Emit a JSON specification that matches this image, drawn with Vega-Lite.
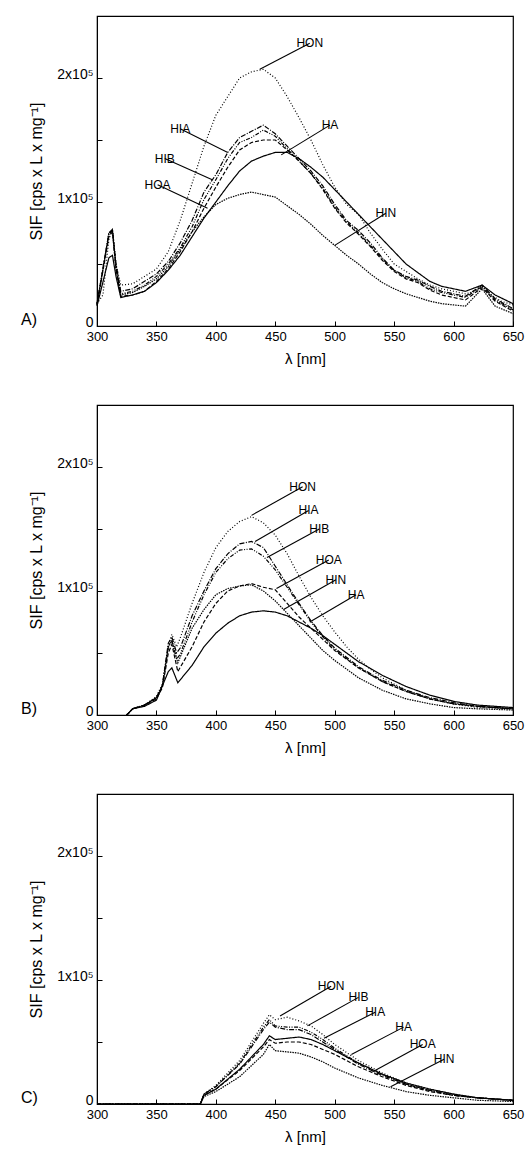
{
  "$schema": "https://vega.github.io/schema/vega-lite/v6.json",
  "background": "white",
  "padding": {"left": 20, "top": 14, "right": 14, "bottom": 5},
  "spacing": 36,
  "config": {
    "font": "Liberation Sans",
    "view": {"stroke": "black", "strokeWidth": 1.2},
    "axis": {"grid": false, "domainColor": "black", "tickColor": "black", "labelColor": "black", "titleColor": "black", "labelFontSize": 13, "titleFontSize": 15, "titleFontWeight": "normal", "labelFlush": false, "tickSize": -5, "labelPadding": 9},
    "axisY": {"labelBaseline": "alphabetic", "labelFontSize": 14, "titleFontSize": 16}
  },
  "datasets": {
    "curves": [
      {"p":"A","s":"HON","x":300,"y":18},{"p":"A","s":"HON","x":305,"y":25},{"p":"A","s":"HON","x":310,"y":70},{"p":"A","s":"HON","x":313,"y":78},{"p":"A","s":"HON","x":316,"y":50},{"p":"A","s":"HON","x":320,"y":33},{"p":"A","s":"HON","x":330,"y":34},{"p":"A","s":"HON","x":340,"y":40},{"p":"A","s":"HON","x":350,"y":46},{"p":"A","s":"HON","x":360,"y":60},{"p":"A","s":"HON","x":370,"y":85},{"p":"A","s":"HON","x":380,"y":115},{"p":"A","s":"HON","x":390,"y":145},{"p":"A","s":"HON","x":400,"y":170},{"p":"A","s":"HON","x":410,"y":185},{"p":"A","s":"HON","x":420,"y":200},{"p":"A","s":"HON","x":430,"y":205},{"p":"A","s":"HON","x":440,"y":207},{"p":"A","s":"HON","x":450,"y":200},{"p":"A","s":"HON","x":460,"y":185},{"p":"A","s":"HON","x":470,"y":168},{"p":"A","s":"HON","x":480,"y":150},{"p":"A","s":"HON","x":490,"y":130},{"p":"A","s":"HON","x":500,"y":112},{"p":"A","s":"HON","x":510,"y":98},{"p":"A","s":"HON","x":520,"y":90},{"p":"A","s":"HON","x":530,"y":75},{"p":"A","s":"HON","x":540,"y":62},{"p":"A","s":"HON","x":550,"y":50},{"p":"A","s":"HON","x":560,"y":44},{"p":"A","s":"HON","x":570,"y":38},{"p":"A","s":"HON","x":580,"y":33},{"p":"A","s":"HON","x":590,"y":30},{"p":"A","s":"HON","x":600,"y":28},{"p":"A","s":"HON","x":610,"y":26},{"p":"A","s":"HON","x":618,"y":28},{"p":"A","s":"HON","x":624,"y":33},{"p":"A","s":"HON","x":630,"y":26},{"p":"A","s":"HON","x":640,"y":20},{"p":"A","s":"HON","x":650,"y":17},
      {"p":"A","s":"HIA","x":300,"y":18},{"p":"A","s":"HIA","x":310,"y":75},{"p":"A","s":"HIA","x":313,"y":78},{"p":"A","s":"HIA","x":316,"y":50},{"p":"A","s":"HIA","x":320,"y":28},{"p":"A","s":"HIA","x":330,"y":30},{"p":"A","s":"HIA","x":340,"y":36},{"p":"A","s":"HIA","x":350,"y":42},{"p":"A","s":"HIA","x":360,"y":52},{"p":"A","s":"HIA","x":370,"y":67},{"p":"A","s":"HIA","x":380,"y":85},{"p":"A","s":"HIA","x":390,"y":108},{"p":"A","s":"HIA","x":400,"y":122},{"p":"A","s":"HIA","x":410,"y":140},{"p":"A","s":"HIA","x":420,"y":152},{"p":"A","s":"HIA","x":430,"y":157},{"p":"A","s":"HIA","x":440,"y":162},{"p":"A","s":"HIA","x":450,"y":155},{"p":"A","s":"HIA","x":460,"y":145},{"p":"A","s":"HIA","x":470,"y":135},{"p":"A","s":"HIA","x":480,"y":125},{"p":"A","s":"HIA","x":490,"y":113},{"p":"A","s":"HIA","x":500,"y":98},{"p":"A","s":"HIA","x":510,"y":85},{"p":"A","s":"HIA","x":520,"y":77},{"p":"A","s":"HIA","x":530,"y":67},{"p":"A","s":"HIA","x":540,"y":55},{"p":"A","s":"HIA","x":550,"y":45},{"p":"A","s":"HIA","x":560,"y":40},{"p":"A","s":"HIA","x":570,"y":37},{"p":"A","s":"HIA","x":580,"y":32},{"p":"A","s":"HIA","x":590,"y":28},{"p":"A","s":"HIA","x":600,"y":26},{"p":"A","s":"HIA","x":610,"y":24},{"p":"A","s":"HIA","x":624,"y":33},{"p":"A","s":"HIA","x":635,"y":22},{"p":"A","s":"HIA","x":650,"y":14},
      {"p":"A","s":"HIB","x":300,"y":17},{"p":"A","s":"HIB","x":310,"y":74},{"p":"A","s":"HIB","x":313,"y":77},{"p":"A","s":"HIB","x":316,"y":48},{"p":"A","s":"HIB","x":320,"y":26},{"p":"A","s":"HIB","x":330,"y":28},{"p":"A","s":"HIB","x":340,"y":33},{"p":"A","s":"HIB","x":350,"y":40},{"p":"A","s":"HIB","x":360,"y":50},{"p":"A","s":"HIB","x":370,"y":63},{"p":"A","s":"HIB","x":380,"y":80},{"p":"A","s":"HIB","x":390,"y":102},{"p":"A","s":"HIB","x":400,"y":118},{"p":"A","s":"HIB","x":410,"y":135},{"p":"A","s":"HIB","x":420,"y":148},{"p":"A","s":"HIB","x":430,"y":152},{"p":"A","s":"HIB","x":440,"y":158},{"p":"A","s":"HIB","x":450,"y":153},{"p":"A","s":"HIB","x":460,"y":143},{"p":"A","s":"HIB","x":470,"y":133},{"p":"A","s":"HIB","x":480,"y":123},{"p":"A","s":"HIB","x":490,"y":111},{"p":"A","s":"HIB","x":500,"y":96},{"p":"A","s":"HIB","x":510,"y":84},{"p":"A","s":"HIB","x":520,"y":75},{"p":"A","s":"HIB","x":530,"y":65},{"p":"A","s":"HIB","x":540,"y":54},{"p":"A","s":"HIB","x":550,"y":45},{"p":"A","s":"HIB","x":560,"y":39},{"p":"A","s":"HIB","x":570,"y":36},{"p":"A","s":"HIB","x":580,"y":30},{"p":"A","s":"HIB","x":590,"y":27},{"p":"A","s":"HIB","x":600,"y":25},{"p":"A","s":"HIB","x":610,"y":23},{"p":"A","s":"HIB","x":624,"y":32},{"p":"A","s":"HIB","x":635,"y":21},{"p":"A","s":"HIB","x":650,"y":13},
      {"p":"A","s":"HOA","x":300,"y":17},{"p":"A","s":"HOA","x":310,"y":72},{"p":"A","s":"HOA","x":313,"y":76},{"p":"A","s":"HOA","x":316,"y":46},{"p":"A","s":"HOA","x":320,"y":24},{"p":"A","s":"HOA","x":330,"y":25},{"p":"A","s":"HOA","x":340,"y":28},{"p":"A","s":"HOA","x":350,"y":36},{"p":"A","s":"HOA","x":360,"y":46},{"p":"A","s":"HOA","x":370,"y":60},{"p":"A","s":"HOA","x":380,"y":76},{"p":"A","s":"HOA","x":390,"y":95},{"p":"A","s":"HOA","x":400,"y":112},{"p":"A","s":"HOA","x":410,"y":128},{"p":"A","s":"HOA","x":420,"y":142},{"p":"A","s":"HOA","x":430,"y":148},{"p":"A","s":"HOA","x":440,"y":150},{"p":"A","s":"HOA","x":450,"y":150},{"p":"A","s":"HOA","x":460,"y":142},{"p":"A","s":"HOA","x":470,"y":133},{"p":"A","s":"HOA","x":480,"y":123},{"p":"A","s":"HOA","x":490,"y":110},{"p":"A","s":"HOA","x":500,"y":95},{"p":"A","s":"HOA","x":510,"y":83},{"p":"A","s":"HOA","x":520,"y":74},{"p":"A","s":"HOA","x":530,"y":64},{"p":"A","s":"HOA","x":540,"y":53},{"p":"A","s":"HOA","x":550,"y":44},{"p":"A","s":"HOA","x":560,"y":38},{"p":"A","s":"HOA","x":570,"y":35},{"p":"A","s":"HOA","x":580,"y":29},{"p":"A","s":"HOA","x":590,"y":25},{"p":"A","s":"HOA","x":600,"y":23},{"p":"A","s":"HOA","x":610,"y":21},{"p":"A","s":"HOA","x":624,"y":31},{"p":"A","s":"HOA","x":635,"y":20},{"p":"A","s":"HOA","x":650,"y":12},
      {"p":"A","s":"HA","x":300,"y":16},{"p":"A","s":"HA","x":310,"y":55},{"p":"A","s":"HA","x":313,"y":57},{"p":"A","s":"HA","x":316,"y":40},{"p":"A","s":"HA","x":320,"y":23},{"p":"A","s":"HA","x":330,"y":25},{"p":"A","s":"HA","x":340,"y":28},{"p":"A","s":"HA","x":350,"y":35},{"p":"A","s":"HA","x":360,"y":45},{"p":"A","s":"HA","x":370,"y":57},{"p":"A","s":"HA","x":380,"y":72},{"p":"A","s":"HA","x":390,"y":87},{"p":"A","s":"HA","x":400,"y":100},{"p":"A","s":"HA","x":410,"y":113},{"p":"A","s":"HA","x":420,"y":125},{"p":"A","s":"HA","x":430,"y":133},{"p":"A","s":"HA","x":440,"y":137},{"p":"A","s":"HA","x":450,"y":140},{"p":"A","s":"HA","x":460,"y":140},{"p":"A","s":"HA","x":470,"y":135},{"p":"A","s":"HA","x":480,"y":128},{"p":"A","s":"HA","x":490,"y":120},{"p":"A","s":"HA","x":500,"y":110},{"p":"A","s":"HA","x":510,"y":100},{"p":"A","s":"HA","x":520,"y":90},{"p":"A","s":"HA","x":530,"y":80},{"p":"A","s":"HA","x":540,"y":70},{"p":"A","s":"HA","x":550,"y":60},{"p":"A","s":"HA","x":560,"y":50},{"p":"A","s":"HA","x":570,"y":43},{"p":"A","s":"HA","x":580,"y":36},{"p":"A","s":"HA","x":590,"y":32},{"p":"A","s":"HA","x":600,"y":30},{"p":"A","s":"HA","x":610,"y":28},{"p":"A","s":"HA","x":624,"y":33},{"p":"A","s":"HA","x":635,"y":25},{"p":"A","s":"HA","x":650,"y":18},
      {"p":"A","s":"HIN","x":300,"y":18},{"p":"A","s":"HIN","x":310,"y":75},{"p":"A","s":"HIN","x":313,"y":77},{"p":"A","s":"HIN","x":316,"y":45},{"p":"A","s":"HIN","x":320,"y":25},{"p":"A","s":"HIN","x":330,"y":27},{"p":"A","s":"HIN","x":340,"y":32},{"p":"A","s":"HIN","x":350,"y":38},{"p":"A","s":"HIN","x":360,"y":48},{"p":"A","s":"HIN","x":370,"y":62},{"p":"A","s":"HIN","x":380,"y":76},{"p":"A","s":"HIN","x":390,"y":88},{"p":"A","s":"HIN","x":400,"y":98},{"p":"A","s":"HIN","x":410,"y":103},{"p":"A","s":"HIN","x":420,"y":106},{"p":"A","s":"HIN","x":430,"y":108},{"p":"A","s":"HIN","x":440,"y":106},{"p":"A","s":"HIN","x":450,"y":104},{"p":"A","s":"HIN","x":460,"y":97},{"p":"A","s":"HIN","x":470,"y":90},{"p":"A","s":"HIN","x":480,"y":82},{"p":"A","s":"HIN","x":490,"y":73},{"p":"A","s":"HIN","x":500,"y":65},{"p":"A","s":"HIN","x":510,"y":57},{"p":"A","s":"HIN","x":520,"y":50},{"p":"A","s":"HIN","x":530,"y":42},{"p":"A","s":"HIN","x":540,"y":35},{"p":"A","s":"HIN","x":550,"y":30},{"p":"A","s":"HIN","x":560,"y":26},{"p":"A","s":"HIN","x":570,"y":23},{"p":"A","s":"HIN","x":580,"y":20},{"p":"A","s":"HIN","x":590,"y":18},{"p":"A","s":"HIN","x":600,"y":17},{"p":"A","s":"HIN","x":610,"y":16},{"p":"A","s":"HIN","x":624,"y":30},{"p":"A","s":"HIN","x":635,"y":16},{"p":"A","s":"HIN","x":650,"y":10},

      {"p":"B","s":"HON","x":325,"y":0},{"p":"B","s":"HON","x":330,"y":5},{"p":"B","s":"HON","x":340,"y":8},{"p":"B","s":"HON","x":350,"y":15},{"p":"B","s":"HON","x":355,"y":25},{"p":"B","s":"HON","x":360,"y":55},{"p":"B","s":"HON","x":363,"y":65},{"p":"B","s":"HON","x":367,"y":55},{"p":"B","s":"HON","x":370,"y":62},{"p":"B","s":"HON","x":380,"y":90},{"p":"B","s":"HON","x":390,"y":115},{"p":"B","s":"HON","x":400,"y":135},{"p":"B","s":"HON","x":410,"y":148},{"p":"B","s":"HON","x":420,"y":156},{"p":"B","s":"HON","x":430,"y":160},{"p":"B","s":"HON","x":440,"y":155},{"p":"B","s":"HON","x":450,"y":145},{"p":"B","s":"HON","x":460,"y":130},{"p":"B","s":"HON","x":470,"y":112},{"p":"B","s":"HON","x":480,"y":95},{"p":"B","s":"HON","x":490,"y":80},{"p":"B","s":"HON","x":500,"y":67},{"p":"B","s":"HON","x":510,"y":55},{"p":"B","s":"HON","x":520,"y":45},{"p":"B","s":"HON","x":530,"y":37},{"p":"B","s":"HON","x":540,"y":30},{"p":"B","s":"HON","x":550,"y":25},{"p":"B","s":"HON","x":560,"y":20},{"p":"B","s":"HON","x":580,"y":13},{"p":"B","s":"HON","x":600,"y":9},{"p":"B","s":"HON","x":620,"y":6},{"p":"B","s":"HON","x":650,"y":5},
      {"p":"B","s":"HIA","x":325,"y":0},{"p":"B","s":"HIA","x":330,"y":5},{"p":"B","s":"HIA","x":340,"y":8},{"p":"B","s":"HIA","x":350,"y":14},{"p":"B","s":"HIA","x":355,"y":24},{"p":"B","s":"HIA","x":360,"y":58},{"p":"B","s":"HIA","x":363,"y":63},{"p":"B","s":"HIA","x":367,"y":50},{"p":"B","s":"HIA","x":370,"y":54},{"p":"B","s":"HIA","x":380,"y":80},{"p":"B","s":"HIA","x":390,"y":100},{"p":"B","s":"HIA","x":400,"y":118},{"p":"B","s":"HIA","x":410,"y":130},{"p":"B","s":"HIA","x":420,"y":138},{"p":"B","s":"HIA","x":430,"y":140},{"p":"B","s":"HIA","x":440,"y":135},{"p":"B","s":"HIA","x":450,"y":120},{"p":"B","s":"HIA","x":460,"y":105},{"p":"B","s":"HIA","x":470,"y":90},{"p":"B","s":"HIA","x":480,"y":76},{"p":"B","s":"HIA","x":490,"y":64},{"p":"B","s":"HIA","x":500,"y":54},{"p":"B","s":"HIA","x":520,"y":39},{"p":"B","s":"HIA","x":540,"y":28},{"p":"B","s":"HIA","x":560,"y":20},{"p":"B","s":"HIA","x":580,"y":14},{"p":"B","s":"HIA","x":600,"y":10},{"p":"B","s":"HIA","x":620,"y":7},{"p":"B","s":"HIA","x":650,"y":5},
      {"p":"B","s":"HIB","x":325,"y":0},{"p":"B","s":"HIB","x":330,"y":5},{"p":"B","s":"HIB","x":340,"y":8},{"p":"B","s":"HIB","x":350,"y":14},{"p":"B","s":"HIB","x":355,"y":23},{"p":"B","s":"HIB","x":360,"y":55},{"p":"B","s":"HIB","x":363,"y":60},{"p":"B","s":"HIB","x":367,"y":45},{"p":"B","s":"HIB","x":370,"y":49},{"p":"B","s":"HIB","x":380,"y":75},{"p":"B","s":"HIB","x":390,"y":97},{"p":"B","s":"HIB","x":400,"y":115},{"p":"B","s":"HIB","x":410,"y":126},{"p":"B","s":"HIB","x":420,"y":133},{"p":"B","s":"HIB","x":430,"y":134},{"p":"B","s":"HIB","x":440,"y":128},{"p":"B","s":"HIB","x":450,"y":117},{"p":"B","s":"HIB","x":460,"y":103},{"p":"B","s":"HIB","x":470,"y":89},{"p":"B","s":"HIB","x":480,"y":75},{"p":"B","s":"HIB","x":490,"y":63},{"p":"B","s":"HIB","x":500,"y":53},{"p":"B","s":"HIB","x":520,"y":38},{"p":"B","s":"HIB","x":540,"y":27},{"p":"B","s":"HIB","x":560,"y":19},{"p":"B","s":"HIB","x":580,"y":13},{"p":"B","s":"HIB","x":600,"y":9},{"p":"B","s":"HIB","x":620,"y":7},{"p":"B","s":"HIB","x":650,"y":5},
      {"p":"B","s":"HOA","x":325,"y":0},{"p":"B","s":"HOA","x":330,"y":5},{"p":"B","s":"HOA","x":340,"y":8},{"p":"B","s":"HOA","x":350,"y":13},{"p":"B","s":"HOA","x":355,"y":22},{"p":"B","s":"HOA","x":360,"y":50},{"p":"B","s":"HOA","x":363,"y":57},{"p":"B","s":"HOA","x":368,"y":35},{"p":"B","s":"HOA","x":380,"y":55},{"p":"B","s":"HOA","x":390,"y":75},{"p":"B","s":"HOA","x":400,"y":90},{"p":"B","s":"HOA","x":410,"y":100},{"p":"B","s":"HOA","x":420,"y":104},{"p":"B","s":"HOA","x":430,"y":106},{"p":"B","s":"HOA","x":440,"y":103},{"p":"B","s":"HOA","x":450,"y":101},{"p":"B","s":"HOA","x":460,"y":90},{"p":"B","s":"HOA","x":470,"y":79},{"p":"B","s":"HOA","x":480,"y":70},{"p":"B","s":"HOA","x":490,"y":61},{"p":"B","s":"HOA","x":500,"y":52},{"p":"B","s":"HOA","x":520,"y":38},{"p":"B","s":"HOA","x":540,"y":27},{"p":"B","s":"HOA","x":560,"y":19},{"p":"B","s":"HOA","x":580,"y":13},{"p":"B","s":"HOA","x":600,"y":9},{"p":"B","s":"HOA","x":620,"y":7},{"p":"B","s":"HOA","x":650,"y":5},
      {"p":"B","s":"HIN","x":325,"y":0},{"p":"B","s":"HIN","x":330,"y":5},{"p":"B","s":"HIN","x":340,"y":8},{"p":"B","s":"HIN","x":350,"y":14},{"p":"B","s":"HIN","x":355,"y":23},{"p":"B","s":"HIN","x":360,"y":55},{"p":"B","s":"HIN","x":363,"y":60},{"p":"B","s":"HIN","x":368,"y":42},{"p":"B","s":"HIN","x":380,"y":70},{"p":"B","s":"HIN","x":390,"y":85},{"p":"B","s":"HIN","x":400,"y":97},{"p":"B","s":"HIN","x":410,"y":102},{"p":"B","s":"HIN","x":420,"y":104},{"p":"B","s":"HIN","x":430,"y":105},{"p":"B","s":"HIN","x":440,"y":100},{"p":"B","s":"HIN","x":450,"y":92},{"p":"B","s":"HIN","x":460,"y":82},{"p":"B","s":"HIN","x":470,"y":72},{"p":"B","s":"HIN","x":480,"y":62},{"p":"B","s":"HIN","x":490,"y":52},{"p":"B","s":"HIN","x":500,"y":44},{"p":"B","s":"HIN","x":520,"y":30},{"p":"B","s":"HIN","x":540,"y":20},{"p":"B","s":"HIN","x":560,"y":13},{"p":"B","s":"HIN","x":580,"y":9},{"p":"B","s":"HIN","x":600,"y":6},{"p":"B","s":"HIN","x":620,"y":5},{"p":"B","s":"HIN","x":650,"y":4},
      {"p":"B","s":"HA","x":325,"y":0},{"p":"B","s":"HA","x":330,"y":5},{"p":"B","s":"HA","x":340,"y":7},{"p":"B","s":"HA","x":350,"y":12},{"p":"B","s":"HA","x":360,"y":35},{"p":"B","s":"HA","x":363,"y":38},{"p":"B","s":"HA","x":368,"y":26},{"p":"B","s":"HA","x":380,"y":40},{"p":"B","s":"HA","x":390,"y":55},{"p":"B","s":"HA","x":400,"y":66},{"p":"B","s":"HA","x":410,"y":74},{"p":"B","s":"HA","x":420,"y":80},{"p":"B","s":"HA","x":430,"y":83},{"p":"B","s":"HA","x":440,"y":84},{"p":"B","s":"HA","x":450,"y":83},{"p":"B","s":"HA","x":460,"y":80},{"p":"B","s":"HA","x":470,"y":75},{"p":"B","s":"HA","x":480,"y":70},{"p":"B","s":"HA","x":490,"y":64},{"p":"B","s":"HA","x":500,"y":57},{"p":"B","s":"HA","x":520,"y":43},{"p":"B","s":"HA","x":540,"y":32},{"p":"B","s":"HA","x":560,"y":23},{"p":"B","s":"HA","x":580,"y":16},{"p":"B","s":"HA","x":600,"y":11},{"p":"B","s":"HA","x":620,"y":8},{"p":"B","s":"HA","x":650,"y":6},

      {"p":"C","s":"HON","x":300,"y":0},{"p":"C","s":"HON","x":387,"y":0},{"p":"C","s":"HON","x":390,"y":8},{"p":"C","s":"HON","x":400,"y":15},{"p":"C","s":"HON","x":420,"y":35},{"p":"C","s":"HON","x":440,"y":65},{"p":"C","s":"HON","x":445,"y":72},{"p":"C","s":"HON","x":450,"y":68},{"p":"C","s":"HON","x":460,"y":70},{"p":"C","s":"HON","x":470,"y":67},{"p":"C","s":"HON","x":480,"y":63},{"p":"C","s":"HON","x":490,"y":56},{"p":"C","s":"HON","x":500,"y":48},{"p":"C","s":"HON","x":520,"y":35},{"p":"C","s":"HON","x":540,"y":25},{"p":"C","s":"HON","x":560,"y":17},{"p":"C","s":"HON","x":580,"y":12},{"p":"C","s":"HON","x":600,"y":8},{"p":"C","s":"HON","x":620,"y":5},{"p":"C","s":"HON","x":650,"y":3},
      {"p":"C","s":"HIB","x":300,"y":0},{"p":"C","s":"HIB","x":387,"y":0},{"p":"C","s":"HIB","x":390,"y":8},{"p":"C","s":"HIB","x":400,"y":14},{"p":"C","s":"HIB","x":420,"y":33},{"p":"C","s":"HIB","x":440,"y":62},{"p":"C","s":"HIB","x":445,"y":68},{"p":"C","s":"HIB","x":450,"y":63},{"p":"C","s":"HIB","x":460,"y":62},{"p":"C","s":"HIB","x":470,"y":62},{"p":"C","s":"HIB","x":480,"y":58},{"p":"C","s":"HIB","x":490,"y":52},{"p":"C","s":"HIB","x":500,"y":45},{"p":"C","s":"HIB","x":520,"y":33},{"p":"C","s":"HIB","x":540,"y":24},{"p":"C","s":"HIB","x":560,"y":16},{"p":"C","s":"HIB","x":580,"y":11},{"p":"C","s":"HIB","x":600,"y":7},{"p":"C","s":"HIB","x":620,"y":5},{"p":"C","s":"HIB","x":650,"y":3},
      {"p":"C","s":"HIA","x":300,"y":0},{"p":"C","s":"HIA","x":387,"y":0},{"p":"C","s":"HIA","x":390,"y":8},{"p":"C","s":"HIA","x":400,"y":14},{"p":"C","s":"HIA","x":420,"y":32},{"p":"C","s":"HIA","x":440,"y":60},{"p":"C","s":"HIA","x":445,"y":66},{"p":"C","s":"HIA","x":450,"y":62},{"p":"C","s":"HIA","x":460,"y":60},{"p":"C","s":"HIA","x":470,"y":60},{"p":"C","s":"HIA","x":480,"y":56},{"p":"C","s":"HIA","x":490,"y":50},{"p":"C","s":"HIA","x":500,"y":44},{"p":"C","s":"HIA","x":520,"y":32},{"p":"C","s":"HIA","x":540,"y":23},{"p":"C","s":"HIA","x":560,"y":16},{"p":"C","s":"HIA","x":580,"y":11},{"p":"C","s":"HIA","x":600,"y":7},{"p":"C","s":"HIA","x":620,"y":5},{"p":"C","s":"HIA","x":650,"y":3},
      {"p":"C","s":"HA","x":300,"y":0},{"p":"C","s":"HA","x":387,"y":0},{"p":"C","s":"HA","x":390,"y":7},{"p":"C","s":"HA","x":400,"y":12},{"p":"C","s":"HA","x":420,"y":28},{"p":"C","s":"HA","x":440,"y":48},{"p":"C","s":"HA","x":445,"y":55},{"p":"C","s":"HA","x":450,"y":52},{"p":"C","s":"HA","x":460,"y":53},{"p":"C","s":"HA","x":470,"y":54},{"p":"C","s":"HA","x":480,"y":52},{"p":"C","s":"HA","x":490,"y":48},{"p":"C","s":"HA","x":500,"y":43},{"p":"C","s":"HA","x":520,"y":33},{"p":"C","s":"HA","x":540,"y":24},{"p":"C","s":"HA","x":560,"y":17},{"p":"C","s":"HA","x":580,"y":12},{"p":"C","s":"HA","x":600,"y":8},{"p":"C","s":"HA","x":620,"y":5},{"p":"C","s":"HA","x":650,"y":3},
      {"p":"C","s":"HOA","x":300,"y":0},{"p":"C","s":"HOA","x":387,"y":0},{"p":"C","s":"HOA","x":390,"y":7},{"p":"C","s":"HOA","x":400,"y":12},{"p":"C","s":"HOA","x":420,"y":27},{"p":"C","s":"HOA","x":440,"y":46},{"p":"C","s":"HOA","x":445,"y":52},{"p":"C","s":"HOA","x":450,"y":49},{"p":"C","s":"HOA","x":460,"y":50},{"p":"C","s":"HOA","x":470,"y":50},{"p":"C","s":"HOA","x":480,"y":48},{"p":"C","s":"HOA","x":490,"y":44},{"p":"C","s":"HOA","x":500,"y":40},{"p":"C","s":"HOA","x":520,"y":30},{"p":"C","s":"HOA","x":540,"y":22},{"p":"C","s":"HOA","x":560,"y":15},{"p":"C","s":"HOA","x":580,"y":10},{"p":"C","s":"HOA","x":600,"y":7},{"p":"C","s":"HOA","x":620,"y":5},{"p":"C","s":"HOA","x":650,"y":3},
      {"p":"C","s":"HIN","x":300,"y":0},{"p":"C","s":"HIN","x":387,"y":0},{"p":"C","s":"HIN","x":390,"y":6},{"p":"C","s":"HIN","x":400,"y":10},{"p":"C","s":"HIN","x":420,"y":22},{"p":"C","s":"HIN","x":440,"y":40},{"p":"C","s":"HIN","x":445,"y":48},{"p":"C","s":"HIN","x":450,"y":43},{"p":"C","s":"HIN","x":460,"y":42},{"p":"C","s":"HIN","x":470,"y":41},{"p":"C","s":"HIN","x":480,"y":38},{"p":"C","s":"HIN","x":490,"y":34},{"p":"C","s":"HIN","x":500,"y":29},{"p":"C","s":"HIN","x":520,"y":21},{"p":"C","s":"HIN","x":540,"y":15},{"p":"C","s":"HIN","x":560,"y":10},{"p":"C","s":"HIN","x":580,"y":7},{"p":"C","s":"HIN","x":600,"y":5},{"p":"C","s":"HIN","x":620,"y":3},{"p":"C","s":"HIN","x":650,"y":2}
    ],
    "notes": [
      {"p":"A","s":"HON","x":479,"y":228,"x2":437,"y2":207,"al":"left"},
      {"p":"A","s":"HIA","x":370,"y":159,"x2":410,"y2":140,"al":"right"},
      {"p":"A","s":"HIB","x":357,"y":135,"x2":397,"y2":118,"al":"right"},
      {"p":"A","s":"HOA","x":351,"y":114,"x2":393,"y2":95,"al":"right"},
      {"p":"A","s":"HA","x":496,"y":162,"x2":455,"y2":138,"al":"left"},
      {"p":"A","s":"HIN","x":543,"y":91,"x2":500,"y2":65,"al":"left"},
      {"p":"B","s":"HON","x":473,"y":184,"x2":430,"y2":161,"al":"left"},
      {"p":"B","s":"HIA","x":478,"y":165,"x2":433,"y2":140,"al":"left"},
      {"p":"B","s":"HIB","x":487,"y":150,"x2":443,"y2":127,"al":"left"},
      {"p":"B","s":"HOA","x":495,"y":125,"x2":451,"y2":102,"al":"left"},
      {"p":"B","s":"HIN","x":501,"y":109,"x2":457,"y2":85,"al":"left"},
      {"p":"B","s":"HA","x":518,"y":97,"x2":479,"y2":75,"al":"left"},
      {"p":"C","s":"HON","x":497,"y":95,"x2":454,"y2":71,"al":"left"},
      {"p":"C","s":"HIB","x":520,"y":86,"x2":477,"y2":63,"al":"left"},
      {"p":"C","s":"HIA","x":534,"y":74,"x2":491,"y2":53,"al":"left"},
      {"p":"C","s":"HA","x":558,"y":62,"x2":514,"y2":40,"al":"left"},
      {"p":"C","s":"HOA","x":574,"y":48,"x2":532,"y2":26,"al":"left"},
      {"p":"C","s":"HIN","x":592,"y":36,"x2":547,"y2":14,"al":"left"}
    ],
    "panels": [{"p":"A","t":"A)"},{"p":"B","t":"B)"},{"p":"C","t":"C)"}]
  },
  "vconcat": [
    {"width": 416, "height": 310, "layer": [
      {"data": {"name": "curves"}, "transform": [{"filter": "datum.p == 'A'"}], "mark": {"type": "line", "color": "black", "strokeWidth": 1.2},
       "encoding": {
         "x": {"field": "x", "type": "quantitative", "scale": {"domain": [300, 650], "nice": false, "padding": 0}, "title": "λ [nm]", "axis": {"values": [300,325,350,375,400,425,450,475,500,525,550,575,600,625,650], "labelExpr": "datum.value % 50 == 0 ? datum.label : ''", "titlePadding": 8}},
         "y": {"field": "y", "type": "quantitative", "scale": {"domain": [0, 250], "nice": false}, "title": "SIF  [cps x L x mg⁻¹]", "axis": {"values": [0,50,100,150,200,250], "labelExpr": "datum.value == 0 ? '0' : datum.value == 100 ? '1x10⁵' : datum.value == 200 ? '2x10⁵' : ''", "titlePadding": 12}},
         "detail": {"field": "s"},
         "strokeDash": {"field": "s", "legend": null, "scale": {"domain": ["HON","HIA","HIB","HOA","HA","HIN"], "range": [[1,2],[5,1.5,1,1.5],[4,1.5,1,1.5,1,1.5],[4,2],[1,0],[1.5,1]]}}
       }},
      {"data": {"name": "notes"}, "transform": [{"filter": "datum.p == 'A'"}], "mark": {"type": "rule", "color": "black", "strokeWidth": 1.1},
       "encoding": {"x": {"field": "x", "type": "quantitative"}, "y": {"field": "y", "type": "quantitative"}, "x2": {"field": "x2"}, "y2": {"field": "y2"}}},
      {"data": {"name": "notes"}, "transform": [{"filter": "datum.p == 'A'"}], "mark": {"type": "text", "fontSize": 12, "baseline": "middle"},
       "encoding": {"x": {"field": "x", "type": "quantitative"}, "y": {"field": "y", "type": "quantitative"}, "text": {"field": "s"}, "align": {"field": "al", "type": "nominal", "scale": null}}},
      {"data": {"name": "panels"}, "transform": [{"filter": "datum.p == 'A'"}], "mark": {"type": "text", "fontSize": 16, "align": "left", "baseline": "bottom", "x": -76, "y": 312}, "encoding": {"text": {"field": "t"}}}
    ]},
    {"width": 416, "height": 310, "layer": [
      {"data": {"name": "curves"}, "transform": [{"filter": "datum.p == 'B'"}], "mark": {"type": "line", "color": "black", "strokeWidth": 1.2},
       "encoding": {
         "x": {"field": "x", "type": "quantitative", "scale": {"domain": [300, 650], "nice": false, "padding": 0}, "title": "λ [nm]", "axis": {"values": [300,325,350,375,400,425,450,475,500,525,550,575,600,625,650], "labelExpr": "datum.value % 50 == 0 ? datum.label : ''", "titlePadding": 8}},
         "y": {"field": "y", "type": "quantitative", "scale": {"domain": [0, 250], "nice": false}, "title": "SIF  [cps x L x mg⁻¹]", "axis": {"values": [0,50,100,150,200,250], "labelExpr": "datum.value == 0 ? '0' : datum.value == 100 ? '1x10⁵' : datum.value == 200 ? '2x10⁵' : ''", "titlePadding": 12}},
         "detail": {"field": "s"},
         "strokeDash": {"field": "s", "legend": null, "scale": {"domain": ["HON","HIA","HIB","HOA","HA","HIN"], "range": [[1,2],[5,1.5,1,1.5],[4,1.5,1,1.5,1,1.5],[4,2],[1,0],[1.5,1]]}}
       }},
      {"data": {"name": "notes"}, "transform": [{"filter": "datum.p == 'B'"}], "mark": {"type": "rule", "color": "black", "strokeWidth": 1.1},
       "encoding": {"x": {"field": "x", "type": "quantitative"}, "y": {"field": "y", "type": "quantitative"}, "x2": {"field": "x2"}, "y2": {"field": "y2"}}},
      {"data": {"name": "notes"}, "transform": [{"filter": "datum.p == 'B'"}], "mark": {"type": "text", "fontSize": 12, "baseline": "middle"},
       "encoding": {"x": {"field": "x", "type": "quantitative"}, "y": {"field": "y", "type": "quantitative"}, "text": {"field": "s"}, "align": {"field": "al", "type": "nominal", "scale": null}}},
      {"data": {"name": "panels"}, "transform": [{"filter": "datum.p == 'B'"}], "mark": {"type": "text", "fontSize": 16, "align": "left", "baseline": "bottom", "x": -76, "y": 312}, "encoding": {"text": {"field": "t"}}}
    ]},
    {"width": 416, "height": 310, "layer": [
      {"data": {"name": "curves"}, "transform": [{"filter": "datum.p == 'C'"}], "mark": {"type": "line", "color": "black", "strokeWidth": 1.2},
       "encoding": {
         "x": {"field": "x", "type": "quantitative", "scale": {"domain": [300, 650], "nice": false, "padding": 0}, "title": "λ [nm]", "axis": {"values": [300,325,350,375,400,425,450,475,500,525,550,575,600,625,650], "labelExpr": "datum.value % 50 == 0 ? datum.label : ''", "titlePadding": 8}},
         "y": {"field": "y", "type": "quantitative", "scale": {"domain": [0, 250], "nice": false}, "title": "SIF  [cps x L x mg⁻¹]", "axis": {"values": [0,50,100,150,200,250], "labelExpr": "datum.value == 0 ? '0' : datum.value == 100 ? '1x10⁵' : datum.value == 200 ? '2x10⁵' : ''", "titlePadding": 12}},
         "detail": {"field": "s"},
         "strokeDash": {"field": "s", "legend": null, "scale": {"domain": ["HON","HIA","HIB","HOA","HA","HIN"], "range": [[1,2],[5,1.5,1,1.5],[4,1.5,1,1.5,1,1.5],[4,2],[1,0],[1.5,1]]}}
       }},
      {"data": {"name": "notes"}, "transform": [{"filter": "datum.p == 'C'"}], "mark": {"type": "rule", "color": "black", "strokeWidth": 1.1},
       "encoding": {"x": {"field": "x", "type": "quantitative"}, "y": {"field": "y", "type": "quantitative"}, "x2": {"field": "x2"}, "y2": {"field": "y2"}}},
      {"data": {"name": "notes"}, "transform": [{"filter": "datum.p == 'C'"}], "mark": {"type": "text", "fontSize": 12, "baseline": "middle"},
       "encoding": {"x": {"field": "x", "type": "quantitative"}, "y": {"field": "y", "type": "quantitative"}, "text": {"field": "s"}, "align": {"field": "al", "type": "nominal", "scale": null}}},
      {"data": {"name": "panels"}, "transform": [{"filter": "datum.p == 'C'"}], "mark": {"type": "text", "fontSize": 16, "align": "left", "baseline": "bottom", "x": -76, "y": 312}, "encoding": {"text": {"field": "t"}}}
    ]}
  ]
}
